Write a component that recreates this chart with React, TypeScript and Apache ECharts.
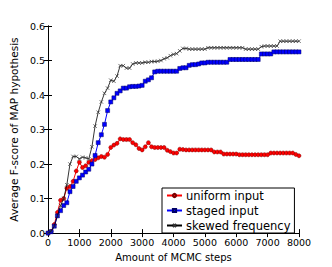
import React, { useEffect, useRef } from "react";
import * as echarts from "echarts";

const steps: number[] = Array.from({ length: 81 }, (_, i) => i * 100);

const uniformInput: number[] = [
  0, 0.005, 0.025, 0.06, 0.095, 0.1, 0.13, 0.135, 0.15, 0.18,
  0.205, 0.19, 0.195, 0.205, 0.21, 0.213, 0.218, 0.222, 0.22, 0.228,
  0.248, 0.255, 0.26, 0.273, 0.271, 0.271, 0.271, 0.262, 0.256, 0.245,
  0.241, 0.25, 0.262, 0.25, 0.248, 0.248, 0.248, 0.248, 0.24, 0.236,
  0.232, 0.232, 0.243, 0.242, 0.241, 0.241, 0.241, 0.241, 0.241, 0.241,
  0.241, 0.241, 0.241, 0.235, 0.235, 0.235, 0.229, 0.229, 0.229, 0.229,
  0.229, 0.227, 0.227, 0.227, 0.227, 0.227, 0.227, 0.227, 0.227, 0.227,
  0.227, 0.232, 0.232, 0.232, 0.232, 0.232, 0.232, 0.232, 0.232, 0.228,
  0.224,
];

const stagedInput: number[] = [
  0, 0.004, 0.02, 0.05, 0.065, 0.08, 0.088, 0.12, 0.135, 0.15,
  0.16, 0.168, 0.177, 0.185, 0.2, 0.225, 0.262, 0.285, 0.315, 0.355,
  0.38, 0.392, 0.405, 0.412, 0.42, 0.42, 0.424, 0.425, 0.425, 0.426,
  0.428, 0.44, 0.444, 0.45, 0.467, 0.469, 0.469, 0.469, 0.469, 0.469,
  0.469, 0.469, 0.477, 0.479, 0.479, 0.486, 0.488, 0.488, 0.49, 0.493,
  0.493, 0.495, 0.495, 0.495, 0.495, 0.495, 0.495, 0.495, 0.503, 0.503,
  0.503, 0.503, 0.503, 0.503, 0.503, 0.503, 0.503, 0.503, 0.519, 0.519,
  0.519, 0.519, 0.525, 0.525, 0.525, 0.525, 0.525, 0.525, 0.525, 0.525,
  0.525,
];

const skewedFrequency: number[] = [
  0, 0.005, 0.02, 0.05, 0.08, 0.1, 0.14, 0.2, 0.222, 0.222,
  0.215, 0.22, 0.218, 0.215, 0.25, 0.31, 0.35, 0.38, 0.405, 0.42,
  0.443, 0.44, 0.455, 0.485, 0.485, 0.478, 0.478, 0.49, 0.493, 0.493,
  0.493, 0.495, 0.495, 0.497, 0.497, 0.498, 0.5, 0.505, 0.508, 0.514,
  0.518, 0.52, 0.528, 0.535, 0.535, 0.533, 0.533, 0.533, 0.533, 0.533,
  0.533, 0.537, 0.537, 0.537, 0.537, 0.537, 0.537, 0.537, 0.537, 0.537,
  0.537, 0.537, 0.537, 0.533, 0.533, 0.533, 0.533, 0.533, 0.54, 0.542,
  0.542, 0.542, 0.542, 0.542, 0.556, 0.556, 0.556, 0.556, 0.556, 0.556,
  0.556,
];

const seriesNames = ["uniform input", "staged input", "skewed frequency"];
const xTitle = "Amount of MCMC steps";
const yTitle = "Average F-score of MAP hypothesis";

const FONT = "DejaVu Sans";

function pairs(ys: number[]): number[][] {
  return steps.map((x, i) => [x, ys[i]]);
}

export default function App() {
  const ref = useRef<HTMLDivElement>(null);
  useEffect(() => {
    if (!ref.current) return;
    const chart = echarts.init(ref.current, null, { renderer: "svg" });
    const axisCommon = {
      type: "value" as const,
      axisLine: { show: true, lineStyle: { color: "#000", width: 1 } },
      axisTick: { show: true, inside: true, length: 4, lineStyle: { color: "#000", width: 1 } },
      splitLine: { show: false },
    };
    chart.setOption({
      animation: false,
      backgroundColor: "#fff",
      textStyle: { fontFamily: FONT },
      grid: { left: 41, top: 26, right: 33, bottom: 27, containLabel: false },
      xAxis: [
        {
          ...axisCommon,
          position: "bottom",
          min: 0,
          max: 8000,
          interval: 1000,
          name: xTitle,
          nameLocation: "middle",
          nameGap: 18,
          nameTextStyle: { fontFamily: FONT, fontSize: 10, color: "#000" },
          axisLabel: {
            fontFamily: FONT,
            fontSize: 9.5,
            color: "#000",
            margin: 4,
            formatter: (v: number) => String(v),
          },
        },
        {
          ...axisCommon,
          position: "top",
          min: 0,
          max: 8000,
          interval: 1000,
          axisLabel: { show: false },
        },
      ],
      yAxis: [
        {
          ...axisCommon,
          position: "left",
          min: 0,
          max: 0.6,
          interval: 0.1,
          name: yTitle,
          nameLocation: "middle",
          nameGap: 18,
          nameTextStyle: { fontFamily: FONT, fontSize: 10.5, color: "#000" },
          axisLabel: {
            fontFamily: FONT,
            fontSize: 9.5,
            color: "#000",
            margin: 3,
            formatter: (v: number) => v.toFixed(1),
          },
        },
        {
          ...axisCommon,
          position: "right",
          min: 0,
          max: 0.6,
          interval: 0.1,
          axisLabel: { show: false },
        },
      ],
      legend: {
        orient: "vertical",
        left: 162,
        top: 188,
        backgroundColor: "#fff",
        borderColor: "#000",
        borderWidth: 1,
        borderRadius: 0,
        padding: [1, 4, 1, 4],
        itemWidth: 15,
        itemHeight: 4,
        itemGap: 2,
        textStyle: { fontFamily: FONT, fontSize: 11.5, color: "#000", lineHeight: 13, padding: [0, 0, 0, -1] },
        data: seriesNames,
      },
      series: [
        {
          name: seriesNames[0],
          type: "line",
          data: pairs(uniformInput),
          symbol: "circle",
          symbolSize: 4,
          showSymbol: true,
          lineStyle: { color: "#ff0000", width: 1 },
          itemStyle: { color: "#ff0000", borderColor: "#7a0000", borderWidth: 0.5 },
          z: 2,
        },
        {
          name: seriesNames[1],
          type: "line",
          data: pairs(stagedInput),
          symbol: "rect",
          symbolSize: 4,
          showSymbol: true,
          lineStyle: { color: "#0000ff", width: 1 },
          itemStyle: { color: "#0000ff", borderColor: "#000066", borderWidth: 0.5 },
          z: 3,
        },
        {
          name: seriesNames[2],
          type: "line",
          data: pairs(skewedFrequency),
          symbol: "path://M0,0L10,10M10,0L0,10",
          symbolSize: 3.5,
          showSymbol: true,
          lineStyle: { color: "#000", width: 0.8 },
          itemStyle: { color: "none", borderColor: "#333", borderWidth: 0.7 },
          z: 4,
        },
      ],
    });
    return () => chart.dispose();
  }, []);
  return (
    <div
      ref={ref}
      style={{ position: "fixed", left: 0, top: 0, width: 332, height: 267, background: "#fff" }}
    />
  );
}
